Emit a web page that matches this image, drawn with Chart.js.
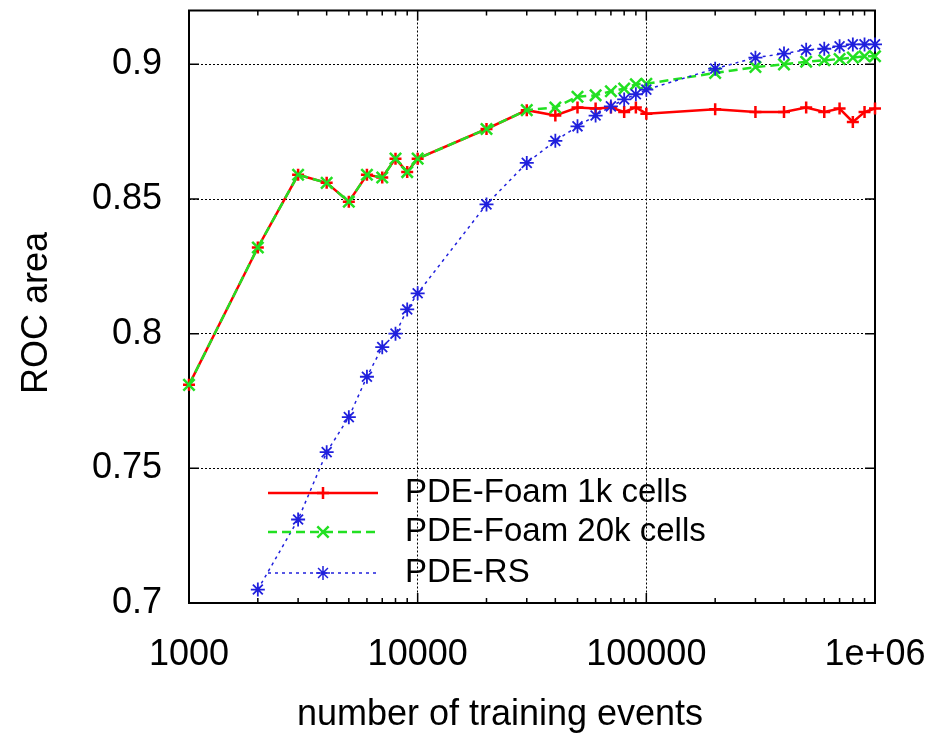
<!DOCTYPE html>
<html>
<head>
<meta charset="utf-8">
<title>ROC area vs number of training events</title>
<script src="https://cdn.jsdelivr.net/npm/chart.js@4.4.1/dist/chart.umd.min.js"></script>
<style>
    html, body { margin: 0; padding: 0; background: #fff; }
    #wrap { width: 925px; height: 734px; }
</style>
</head>
<body>
<div id="wrap"><canvas id="rocChart" width="925" height="734"></canvas></div>
<script>
// data
const trainingEvents = [1000, 2000, 3000, 4000, 5000, 6000, 7000, 8000, 9000, 10000,
    20000, 30000, 40000, 50000, 60000, 70000, 80000, 90000, 100000,
    200000, 300000, 400000, 500000, 600000, 700000, 800000, 900000, 1000000];

const foam1k = [0.781, 0.832, 0.859, 0.856, 0.849, 0.859, 0.858, 0.865, 0.860, 0.865,
    0.876, 0.883, 0.881, 0.884, 0.8836, 0.884, 0.8823, 0.884, 0.8817,
    0.8833, 0.8823, 0.8823, 0.884, 0.8823, 0.8836, 0.8786, 0.8823, 0.8836];

const foam20k = [0.781, 0.832, 0.859, 0.856, 0.849, 0.859, 0.858, 0.865, 0.860, 0.865,
    0.876, 0.883, 0.884, 0.888, 0.8885, 0.890, 0.891, 0.8926, 0.8928,
    0.8968, 0.899, 0.900, 0.901, 0.9015, 0.902, 0.9025, 0.903, 0.903];

// PDE-RS at 1000 events is below the axis range
const pdeRS = [null, 0.705, 0.731, 0.756, 0.769, 0.784, 0.795, 0.800, 0.809, 0.815,
    0.848, 0.8634, 0.8716, 0.877, 0.881, 0.8844, 0.887, 0.8889, 0.8906,
    0.8984, 0.9025, 0.904, 0.9054, 0.9058, 0.9067, 0.9074, 0.9074, 0.9074];

const seriesNames = ["PDE-Foam 1k cells", "PDE-Foam 20k cells", "PDE-RS"];

const xTicks = [1000, 10000, 100000, 1000000];
const xTickLabels = ["1000", "10000", "100000", "1e+06"];
const xMinorTicks = [2000, 3000, 4000, 5000, 6000, 7000, 8000, 9000,
    20000, 30000, 40000, 50000, 60000, 70000, 80000, 90000,
    200000, 300000, 400000, 500000, 600000, 700000, 800000, 900000];
const yTicks = [0.7, 0.75, 0.8, 0.85, 0.9];
const yTickLabels = ["0.7", "0.75", "0.8", "0.85", "0.9"];

const FONT = "'Liberation Sans', Arial, Helvetica, sans-serif";
const RED = "#ff0000";
const GREEN = "#22e022";
const BLUE = "#2020dd";

function toPoints(values) {
    return trainingEvents
        .map((x, i) => ({ x: x, y: values[i] }))
        .filter(p => p.y !== null);
}

// small marker drawer for the legend samples
function drawMarker(ctx, style, x, y, r) {
    const d = r * Math.SQRT1_2;
    ctx.beginPath();
    if (style === "cross" || style === "star") {
        ctx.moveTo(x - r, y); ctx.lineTo(x + r, y);
        ctx.moveTo(x, y - r); ctx.lineTo(x, y + r);
    }
    if (style === "crossRot" || style === "star") {
        ctx.moveTo(x - d, y - d); ctx.lineTo(x + d, y + d);
        ctx.moveTo(x - d, y + d); ctx.lineTo(x + d, y - d);
    }
    ctx.stroke();
}

// frame plus inward ticks on all four sides (gnuplot style)
const frameTicks = {
    id: "frameTicks",
    beforeDatasetsDraw(chart) {
        const { ctx, chartArea: { left, right, top, bottom }, scales: { x, y } } = chart;
        ctx.save();
        ctx.strokeStyle = "#000";
        ctx.lineWidth = 1.5;
        ctx.beginPath();
        xTicks.forEach(v => {
            const px = x.getPixelForValue(v);
            ctx.moveTo(px, bottom); ctx.lineTo(px, bottom - 10);
            ctx.moveTo(px, top); ctx.lineTo(px, top + 10);
        });
        xMinorTicks.forEach(v => {
            const px = x.getPixelForValue(v);
            ctx.moveTo(px, bottom); ctx.lineTo(px, bottom - 5);
            ctx.moveTo(px, top); ctx.lineTo(px, top + 5);
        });
        yTicks.forEach(v => {
            const py = y.getPixelForValue(v);
            ctx.moveTo(left, py); ctx.lineTo(left + 10, py);
            ctx.moveTo(right, py); ctx.lineTo(right - 10, py);
        });
        ctx.stroke();
        ctx.lineWidth = 2;
        ctx.strokeRect(left, top, right - left, bottom - top);
        ctx.restore();
    }
};

// axis titles and the in-plot key
const titlesAndKey = {
    id: "titlesAndKey",
    afterDraw(chart) {
        const ctx = chart.ctx;
        ctx.save();
        ctx.fillStyle = "#000";
        ctx.font = "36px " + FONT;
        ctx.textAlign = "center";
        ctx.textBaseline = "middle";
        ctx.fillText("number of training events", 500, 715);
        ctx.translate(37, 313);
        ctx.rotate(-Math.PI / 2);
        ctx.fillText("ROC area", 0, 0);
        ctx.restore();

        const rows = [
            { y: 493, color: RED, dash: [], width: 2.5, marker: "cross", r: 6 },
            { y: 532, color: GREEN, dash: [9, 5], width: 2.5, marker: "crossRot", r: 8 },
            { y: 573, color: BLUE, dash: [3, 4], width: 1.5, marker: "star", r: 7 }
        ];
        ctx.save();
        rows.forEach((row, i) => {
            ctx.strokeStyle = row.color;
            ctx.lineWidth = row.width;
            ctx.setLineDash(row.dash);
            ctx.beginPath();
            ctx.moveTo(268, row.y); ctx.lineTo(378, row.y);
            ctx.stroke();
            ctx.setLineDash([]);
            drawMarker(ctx, row.marker, 323, row.y, row.r);
            ctx.fillStyle = "#000";
            ctx.font = "33px " + FONT;
            ctx.textAlign = "left";
            ctx.textBaseline = "middle";
            ctx.fillText(seriesNames[i], 405, row.y);
        });
        ctx.restore();
    }
};

function noPadding(scale) {
    scale.paddingLeft = 0;
    scale.paddingRight = 0;
    scale.paddingTop = 0;
    scale.paddingBottom = 0;
}

const ctx = document.getElementById("rocChart").getContext("2d");

const rocChart = new Chart(ctx, {
    type: "line",
    data: {
        datasets: [
            {
                label: seriesNames[0],
                data: toPoints(foam1k),
                borderColor: RED,
                borderWidth: 2.5,
                pointStyle: "cross",
                pointRadius: 6,
                pointBorderWidth: 2.5,
                pointBorderColor: RED,
                pointBackgroundColor: RED,
                tension: 0,
                clip: false,
                order: 3
            },
            {
                label: seriesNames[1],
                data: toPoints(foam20k),
                borderColor: GREEN,
                borderWidth: 2.5,
                borderDash: [9, 5],
                pointStyle: "crossRot",
                pointRadius: 8,
                pointBorderWidth: 2.5,
                pointBorderColor: GREEN,
                pointBackgroundColor: GREEN,
                tension: 0,
                clip: false,
                order: 2
            },
            {
                label: seriesNames[2],
                data: toPoints(pdeRS),
                borderColor: BLUE,
                borderWidth: 1.5,
                borderDash: [3, 4],
                pointStyle: "star",
                pointRadius: 7,
                pointBorderWidth: 1.8,
                pointBorderColor: BLUE,
                pointBackgroundColor: BLUE,
                tension: 0,
                clip: false,
                order: 1
            }
        ]
    },
    options: {
        responsive: false,
        animation: false,
        layout: { padding: { top: 10, right: 50, left: 0, bottom: 0 } },
        plugins: {
            legend: { display: false },
            tooltip: { enabled: false }
        },
        scales: {
            x: {
                type: "logarithmic",
                min: 1000,
                max: 1000000,
                afterBuildTicks: scale => {
                    scale.ticks = xTicks.map(v => ({ value: v, major: true }));
                },
                afterFit: scale => {
                    scale.height = 131;
                    noPadding(scale);
                },
                ticks: {
                    autoSkip: false,
                    maxRotation: 0,
                    padding: 30,
                    color: "#000",
                    font: { family: FONT, size: 36 },
                    callback: (value, index) => xTickLabels[index]
                },
                grid: { color: "#000", lineWidth: 1, drawTicks: false },
                border: { display: false, dash: [2, 2] }
            },
            y: {
                type: "linear",
                min: 0.7,
                max: 0.92,
                afterBuildTicks: scale => {
                    scale.ticks = yTicks.map(v => ({ value: v }));
                },
                afterFit: scale => {
                    scale.width = 189;
                    noPadding(scale);
                },
                ticks: {
                    autoSkip: false,
                    padding: 27,
                    color: "#000",
                    font: { family: FONT, size: 36 },
                    callback: (value, index) => yTickLabels[index]
                },
                grid: { color: "#000", lineWidth: 1, drawTicks: false },
                border: { display: false, dash: [2, 2] }
            }
        }
    },
    plugins: [frameTicks, titlesAndKey]
});
</script>
</body>
</html>
